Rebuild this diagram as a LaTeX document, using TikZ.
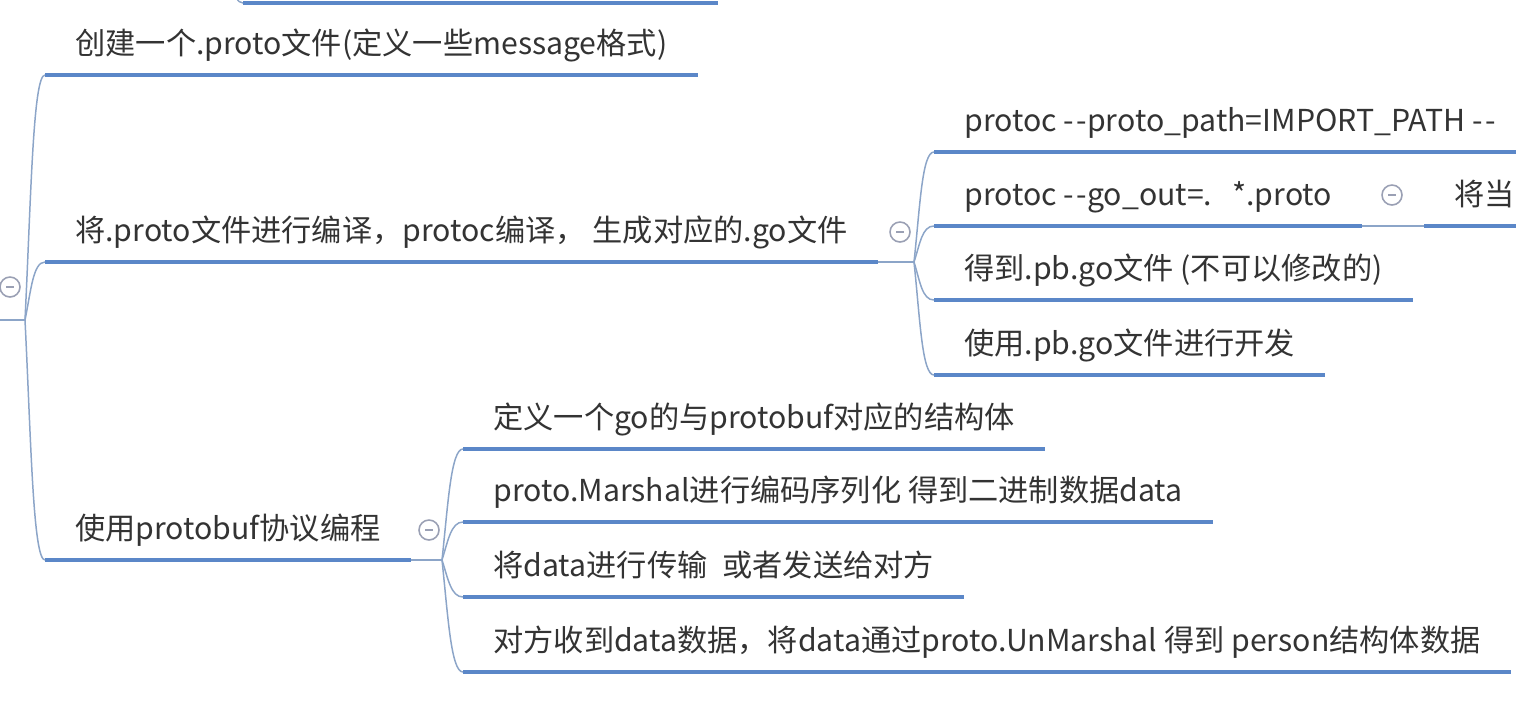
\documentclass[tikz,border=0pt]{standalone}
\usepackage{fontspec}
\setmainfont{Noto Sans CJK SC}
\usepackage{tikz}
\usetikzlibrary{calc}
\definecolor{ulblue}{HTML}{5B87C8}
\definecolor{lnblue}{HTML}{8CA5C8}
\definecolor{foldgray}{HTML}{9AA0B4}
\definecolor{txtgray}{HTML}{333333}

\begin{document}
\begin{tikzpicture}[x=0.02cm,y=-0.02cm]
        %
        % `topic' is one entry of the mind map (its underline is drawn after).
        % `uline' is the thick underline, `branch' the thin connector.
        % `fold' is the small collapse button.
        \tikzstyle{topic} = [anchor=south west,inner xsep=0.6cm,inner ysep=0pt,text depth=0.4cm,text height=0.6cm,text=txtgray,font=\fontsize{17.2pt}{20pt}\selectfont]
        \tikzstyle{uline} = [draw=ulblue,line width=2.8pt]
        \tikzstyle{branch} = [draw=lnblue,line width=0.85pt]
        \tikzstyle{fold} = [draw=foldgray,circle,line width=0.9pt,minimum size=0.4cm,inner sep=0pt,fill=white,
                path picture={\draw[foldgray,line width=0.9pt] ($(path picture bounding box.west)+(6,0)$) -- ($(path picture bounding box.east)+(-6,0)$);}]
        %
        \useasboundingbox (0,0) rectangle (1516,704);
        \clip (0,0) rectangle (1516,704);
        %
        % Entry cut at the top
        \coordinate (topfork) at (228,-60);
        \coordinate (top0) at (243,3);
        \coordinate (top1) at (718,3);
        \draw[branch] (topfork) .. controls ($(topfork)!0.5!(topfork |- top0)+(6,0)$) and ($(top0)+(-12,0)$) .. (top0);
        \draw[uline] (top0) -- (top1);
        %
        % Root fork
        \coordinate (rootend) at (-5,320);
        \coordinate (forkR) at (25,320);
        \node[fold] (foldR) at (10,287) {};
        \draw[branch] (rootend) -- (forkR);
        %
        % Level 1
        \node[topic] (create) at (45,75) {创建一个.proto文件(定义一些message格式)};
        \node[topic] (compile) at (45,262) {将.proto文件进行编译，protoc编译， 生成对应的.go文件};
        \node[topic] (use) at (45,560) {使用protobuf协议编程};
        \foreach \n in {create,compile,use} {
            \draw[branch] (forkR) .. controls ($(forkR)!0.5!(forkR |- \n.south west)+(6,0)$) and ($(\n.south west)+(-12,0)$) .. (\n.south west);
            \draw[uline] (\n.south west) -- (\n.south east);
        }
        %
        % Level 2 under `compile'
        \coordinate (forkB) at (914,262);
        \node[fold] (foldB) at (900,232) {};
        \draw[branch] (compile.south east) -- (forkB);
        \node[topic] (path) at (934,152) {protoc -\kern1.5pt-proto\_path=IMPORT\_PATH -\kern1.5pt-};
        \node[topic] (goout) at (934,226) {protoc -\kern1.5pt-go\_out=.\enspace\,*.proto};
        \node[topic] (pbgo) at (934,300) {得到.pb.go文件 (不可以修改的)};
        \node[topic] (dev) at (934,375) {使用.pb.go文件进行开发};
        \foreach \n in {path,goout,pbgo,dev} {
            \draw[branch] (forkB) .. controls ($(forkB)!0.5!(forkB |- \n.south west)+(6,0)$) and ($(\n.south west)+(-12,0)$) .. (\n.south west);
            \draw[uline] (\n.south west) -- (\n.south east);
        }
        %
        % Level 3 under `goout'
        \node[fold] (foldG) at (1392,195) {};
        \node[topic] (cur) at (1424,226) {将当};
        \draw[branch] (goout.south east) -- (cur.south west);
        \draw[uline] (cur.south west) -- (cur.south east);
        %
        % Level 2 under `use'
        \coordinate (forkC) at (442,560);
        \node[fold] (foldC) at (429,530) {};
        \draw[branch] (use.south east) -- (forkC);
        \node[topic] (struct) at (463,449) {定义一个go的与protobuf对应的结构体};
        \node[topic] (marshal) at (463,522) {proto.Marshal进行编码序列化 得到二进制数据data};
        \node[topic] (send) at (463,597) {将data进行传输\hspace{0.5em}或者发送给对方};
        \node[topic] (recv) at (463,672) {对方收到data数据，将data通过proto.UnMarshal 得到 person结构体数据};
        \foreach \n in {struct,marshal,send,recv} {
            \draw[branch] (forkC) .. controls ($(forkC)!0.5!(forkC |- \n.south west)+(6,0)$) and ($(\n.south west)+(-12,0)$) .. (\n.south west);
            \draw[uline] (\n.south west) -- (\n.south east);
        }
        %
\end{tikzpicture}
\end{document}
